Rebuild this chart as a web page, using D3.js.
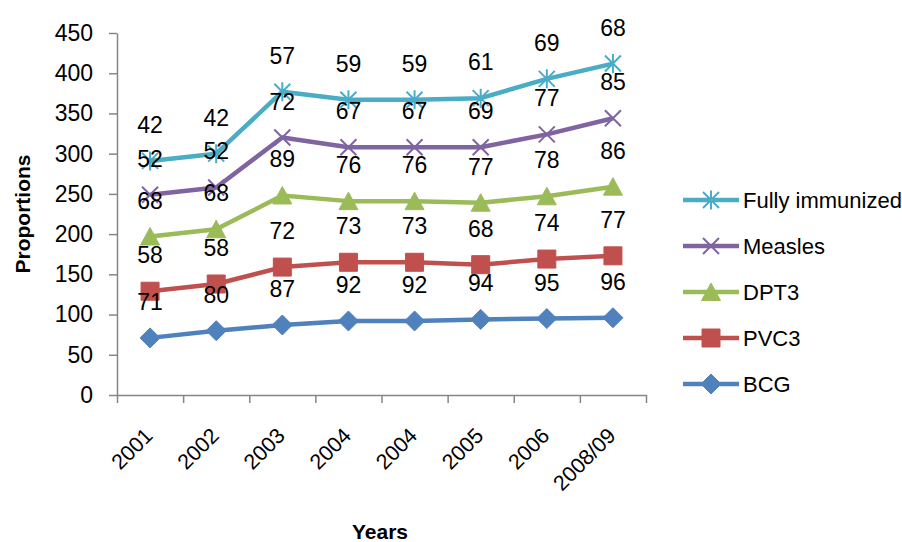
<!DOCTYPE html>
<html>
<head>
<meta charset="utf-8">
<script src="https://cdn.jsdelivr.net/npm/d3@7"></script>
<style>
  body { margin: 0; background: #fff; }
  svg { display: block; font-family: "Liberation Sans", Arial, sans-serif; }
</style>
</head>
<body>
<svg id="chart" width="902" height="542"></svg>
<script>
// Immunization coverage by survey year (stacked lines)
const years = ["2001", "2002", "2003", "2004", "2004", "2005", "2006", "2008/09"];
const bcg = [71, 80, 87, 92, 92, 94, 95, 96];
const pvc3 = [58, 58, 72, 73, 73, 68, 74, 77];
const dpt3 = [68, 68, 89, 76, 76, 77, 78, 86];
const measles = [52, 52, 72, 67, 67, 69, 77, 85];
const fullyImmunized = [42, 42, 57, 59, 59, 61, 69, 68];
const yTicks = [0, 50, 100, 150, 200, 250, 300, 350, 400, 450];

// Series in stacking order (bottom to top)
const seriesNames = ["BCG", "PVC3", "DPT3", "Measles", "Fully immunized"];
const seriesValues = [bcg, pvc3, dpt3, measles, fullyImmunized];
const colors = ["#4F81BD", "#C0504D", "#9BBB59", "#8064A2", "#4BACC6"];
const markers = ["diamond", "square", "triangle", "x", "star"];

const rows = years.map((yr, i) => {
  const r = { i };
  seriesNames.forEach((n, k) => { r[n] = seriesValues[k][i]; });
  return r;
});
const stacked = d3.stack().keys(seriesNames)(rows);

const svg = d3.select("#chart");
const plotLeft = 117, plotRight = 646, plotTop = 33, plotBottom = 395;

const x = d3.scaleBand().domain(d3.range(years.length)).range([plotLeft, plotRight]);
const xEdge = d3.scaleLinear().domain([0, years.length]).range([plotLeft, plotRight]);
const y = d3.scaleLinear().domain([0, 450]).range([plotBottom, plotTop]);
const cx = i => x(i) + x.bandwidth() / 2;

const axisColor = "#868686";

// Y axis
const yAxis = svg.append("g")
  .attr("transform", `translate(${plotLeft},0)`)
  .call(d3.axisLeft(y).tickValues(yTicks).tickSize(8).tickSizeOuter(0).tickPadding(16));
yAxis.select(".domain").attr("stroke", axisColor).attr("stroke-width", 1.5);
yAxis.selectAll(".tick line").attr("stroke", axisColor).attr("stroke-width", 1.5);
yAxis.selectAll(".tick text")
  .attr("fill", "#000").style("font-size", "23px")
  .style("font-family", "'Liberation Sans', Arial, sans-serif");

// X axis (ticks between categories)
const xAxis = svg.append("g")
  .attr("transform", `translate(0,${plotBottom})`)
  .call(d3.axisBottom(xEdge).tickValues(d3.range(years.length + 1)).tickSize(8).tickSizeOuter(0).tickFormat(""));
xAxis.select(".domain").attr("stroke", axisColor).attr("stroke-width", 1.5);
xAxis.selectAll(".tick line").attr("stroke", axisColor).attr("stroke-width", 1.5);

svg.append("g").selectAll("text")
  .data(years)
  .join("text")
  .attr("transform", (d, i) => `translate(${cx(i) + 4},437) rotate(-45)`)
  .attr("text-anchor", "end")
  .style("font-size", "21.5px")
  .attr("fill", "#000")
  .text(d => d);

// Axis titles
svg.append("text")
  .attr("x", 380).attr("y", 539)
  .attr("text-anchor", "middle")
  .style("font-size", "21px").style("font-weight", "bold")
  .text("Years");

svg.append("text")
  .attr("transform", "translate(30,214) rotate(-90)")
  .attr("text-anchor", "middle")
  .style("font-size", "21px").style("font-weight", "bold")
  .text("Proportions");

// Marker shapes
function markerPath(type) {
  switch (type) {
    case "diamond": return "M0,-10L10,0L0,10L-10,0Z";
    case "square": return "M-9,-9H9V9H-9Z";
    case "triangle": return "M0,-9L9.5,8.5H-9.5Z";
    case "x": return "M-8,-8L8,8M-8,8L8,-8";
    case "star": return "M-8,-8L8,8M-8,8L8,-8M0,-9.5V9.5";
  }
}
function drawMarker(g, type, color) {
  const stroked = type === "x" || type === "star";
  g.append("path")
    .attr("d", markerPath(type))
    .attr("fill", stroked ? "none" : color)
    .attr("stroke", color)
    .attr("stroke-width", stroked ? 2 : 1);
}

// Lines and markers
const line = d3.line().x(d => cx(d.data.i)).y(d => y(d[1]));
const plot = svg.append("g");
stacked.forEach((s, k) => {
  const g = plot.append("g");
  g.append("path")
    .datum(s)
    .attr("d", line)
    .attr("fill", "none")
    .attr("stroke", colors[k])
    .attr("stroke-width", 4.5)
    .attr("stroke-linejoin", "round");
  s.forEach(d => {
    const m = g.append("g").attr("transform", `translate(${cx(d.data.i)},${y(d[1])})`);
    drawMarker(m, markers[k], colors[k]);
  });
});

// Data labels
const labels = svg.append("g").attr("text-anchor", "middle").style("font-size", "23px").attr("fill", "#000");
stacked.forEach((s, k) => {
  s.forEach(d => {
    labels.append("text")
      .attr("x", cx(d.data.i))
      .attr("y", y(d[1]) - 28)
      .text(seriesValues[k][d.data.i]);
  });
});

// Legend (top series first)
const legendY = [200, 246, 292, 338, 384];
const legend = svg.append("g");
[4, 3, 2, 1, 0].forEach((k, j) => {
  const g = legend.append("g").attr("transform", `translate(0,${legendY[j]})`);
  g.append("line").attr("x1", 683).attr("x2", 739).attr("y1", 0).attr("y2", 0)
    .attr("stroke", colors[k]).attr("stroke-width", 4.5);
  const m = g.append("g").attr("transform", "translate(711,0)");
  drawMarker(m, markers[k], colors[k]);
  g.append("text").attr("x", 743).attr("y", 0).attr("dy", "0.35em")
    .style("font-size", "22px").attr("fill", "#000")
    .text(seriesNames[k]);
});
</script>
</body>
</html>
